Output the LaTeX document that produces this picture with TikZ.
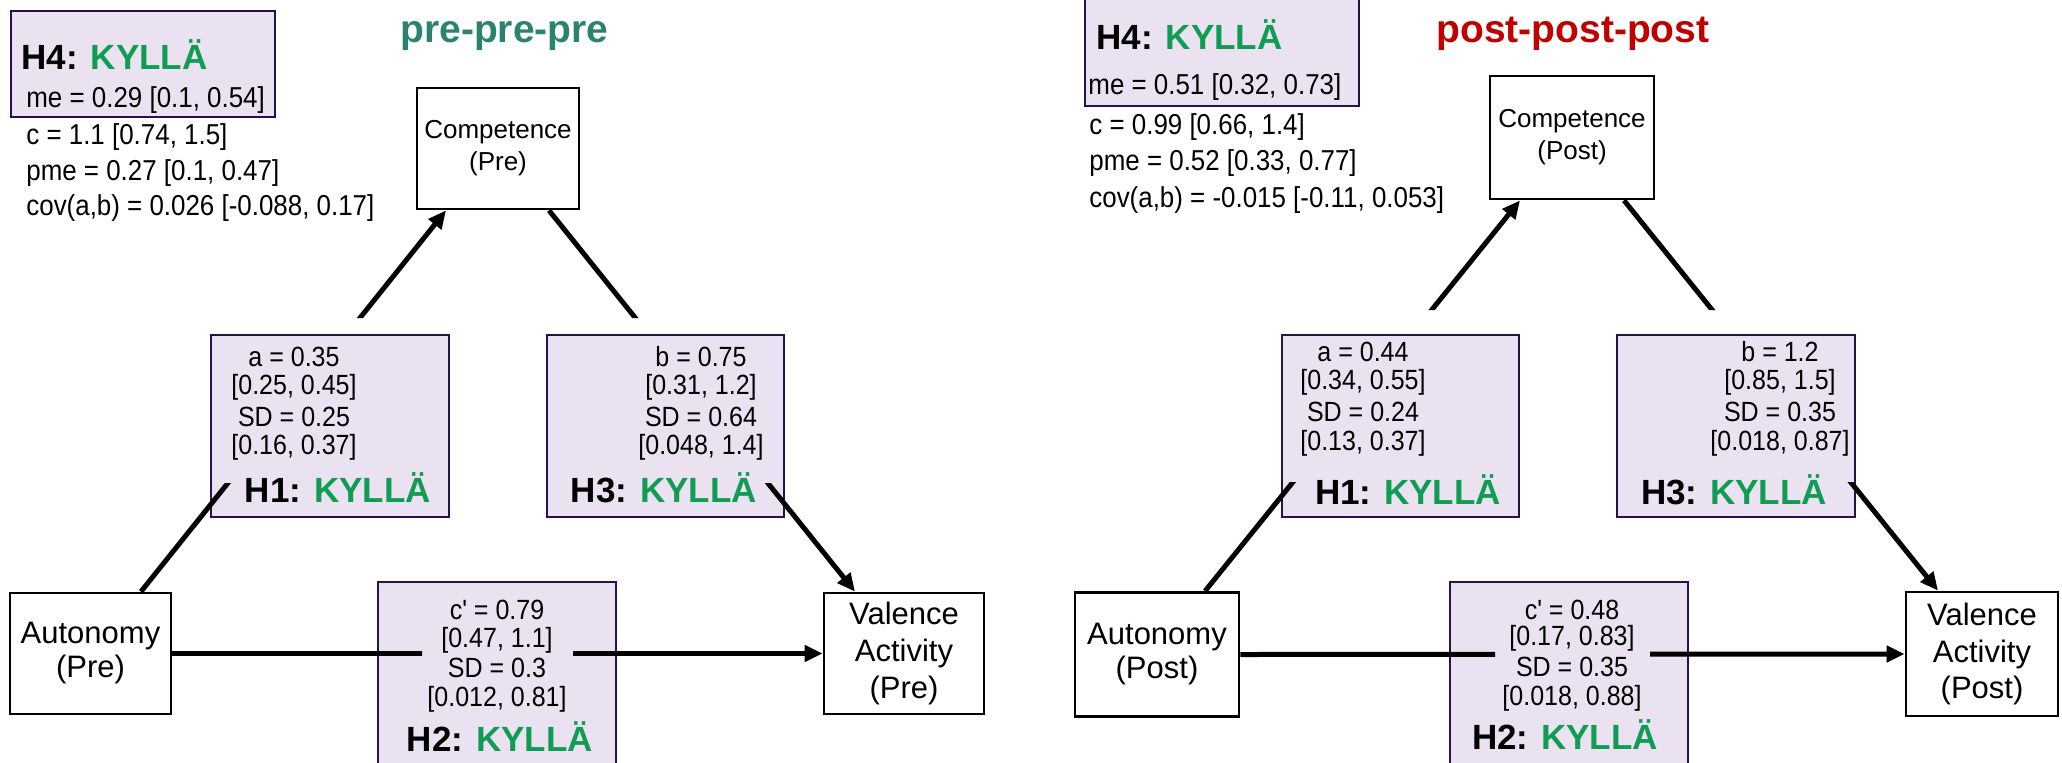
\documentclass[tikz,border=0pt]{standalone}
\usepackage{fontspec}
\setmainfont{Liberation Sans}
\newfontfamily\condfont{Liberation Sans}[FakeStretch=0.9, Ligatures=TeXOff]
\usetikzlibrary{arrows.meta}
\definecolor{lav}{RGB}{234,226,240}
\definecolor{pborder}{RGB}{38,20,72}
\definecolor{kgreen}{RGB}{16,156,84}
\definecolor{pretitle}{RGB}{41,131,110}
\definecolor{posttitle}{RGB}{192,0,0}
\newcommand{\kyl}[1]{{\fontsize{17.5}{20}\selectfont\bfseries #1: \textcolor{kgreen}{KYLLÄ}}}
\begin{document}
\begin{tikzpicture}[x=0.5pt,y=-0.5pt,
  box/.style={draw=black, line width=1.4pt, fill=white, inner sep=0pt, align=center},
  statbox/.style={draw=pborder, line width=1pt, fill=lav, inner sep=0pt},
  stat/.style={inner sep=0pt, font=\condfont\fontsize{13.9}{16}\selectfont},
  info/.style={inner sep=0pt, anchor=west, font=\condfont\fontsize{14.4}{16}\selectfont},
  lab/.style={inner sep=0pt},
  ttl/.style={anchor=base west, inner sep=0pt, font=\fontsize{19.5}{22}\selectfont\bfseries},
  conn/.style={line width=2.5pt, -{Triangle[length=9pt,width=8pt]}}]
\useasboundingbox (0,0) rectangle (2062,762);

% ---------------- main nodes
\node[box, minimum width=81pt, minimum height=60.5pt, font=\fontsize{13}{16}\selectfont] (compL) at (498,148.5) {Competence\\(Pre)};
\node[box, minimum width=80.5pt, minimum height=60.5pt, font=\fontsize{15.5}{17}\selectfont] (autL) at (90.5,653.5) {Autonomy\\(Pre)};
\node[box, minimum width=80pt, minimum height=60.5pt, font=\fontsize{15.5}{18.3}\selectfont] (valL) at (904,653.5) {Valence\\Activity\\(Pre)};

\node[box, minimum width=82pt, minimum height=61.5pt, font=\fontsize{13}{16}\selectfont] (compR) at (1572,137.5) {Competence\\(Post)};
\node[box, minimum width=82pt, minimum height=62pt, font=\fontsize{15.5}{17}\selectfont] (autR) at (1157,654.5) {Autonomy\\(Post)};
\node[box, minimum width=76pt, minimum height=62pt, font=\fontsize{15.5}{18.3}\selectfont] (valR) at (1982,654) {Valence\\Activity\\(Post)};

% ---------------- stat boxes
\node[statbox, minimum width=132pt, minimum height=53pt] (h4L) at (143,64) {};
\node[statbox, minimum width=119pt, minimum height=91pt] (h1L) at (330,426) {};
\node[statbox, minimum width=118.5pt, minimum height=91pt] (h3L) at (665.5,426) {};
\node[statbox, minimum width=119pt, minimum height=94pt] (h2L) at (497,676) {};

\node[statbox, minimum width=137pt, minimum height=54.5pt] (h4R) at (1222,51.5) {};
\node[statbox, minimum width=118.5pt, minimum height=91pt] (h1R) at (1400.5,426) {};
\node[statbox, minimum width=119pt, minimum height=91pt] (h3R) at (1736,426) {};
\node[statbox, minimum width=119pt, minimum height=94pt] (h2R) at (1569,676) {};

% ---------------- connectors (left)
\begin{scope}[even odd rule]
\clip (-20,-20) rectangle (2100,800) (-20,318) rectangle (2100,483);
\draw[conn] ([xshift=25.25pt]autL.north) -- ([xshift=-26pt]compL.south);
\draw[conn] ([xshift=25.5pt]compL.south) -- ([xshift=-24.5pt]valL.north);
\end{scope}
\begin{scope}[even odd rule]
\clip (-20,-20) rectangle (2100,800) (422,600) rectangle (573,700);
\draw[conn] (autL.east) -- (valL.west);
\end{scope}

% ---------------- connectors (right)
\begin{scope}[even odd rule]
\clip (-20,-20) rectangle (2100,800) (-20,310) rectangle (2100,482);
\draw[conn] ([xshift=24pt]autR.north) -- ([xshift=-26pt]compR.south);
\draw[conn] ([xshift=26pt]compR.south) -- ([xshift=-22pt]valR.north);
\end{scope}
\begin{scope}[even odd rule]
\clip (-20,-20) rectangle (2100,800) (1495,600) rectangle (1650,700);
\draw[conn] (autR.east) -- (valR.west);
\end{scope}

% ---------------- titles
\node[ttl, text=pretitle] (titleL) at (400,42) {pre-pre-pre};
\node[ttl, text=posttitle] (titleR) at (1436,42) {post-post-post};

% ---------------- H4 info (left)
\node[lab, anchor=west] (h4Lt) at (21,55) {\kyl{H4}};
\node[info] (meL) at (26,100) {me = 0.29 [0.1, 0.54]};
\node[info] (cL) at (26,137) {c = 1.1 [0.74, 1.5]};
\node[info] (pmeL) at (26,173) {pme = 0.27 [0.1, 0.47]};
\node[info] (covL) at (26,208) {cov(a,b) = 0.026 [-0.088, 0.17]};

% ---------------- H4 info (right)
\node[lab, anchor=west] (h4Rt) at (1096,35) {\kyl{H4}};
\node[info] (meR) at (1088,87) {me = 0.51 [0.32, 0.73]};
\node[info] (cR) at (1089,127) {c = 0.99 [0.66, 1.4]};
\node[info] (pmeR) at (1089,163) {pme = 0.52 [0.33, 0.77]};
\node[info] (covR) at (1089,200) {cov(a,b) = -0.015 [-0.11, 0.053]};

% ---------------- H1 left
\node[stat] (a1L) at (294,357) {a = 0.35};
\node[stat] (a2L) at (294,387) {[0.25, 0.45]};
\node[stat] (a3L) at (294,417) {SD = 0.25};
\node[stat] (a4L) at (294,447) {[0.16, 0.37]};
\node[lab] (h1Lt) at (338,488) {\kyl{H1}};
% ---------------- H3 left
\node[stat] (b1L) at (701,357) {b = 0.75};
\node[stat] (b2L) at (701,387) {[0.31, 1.2]};
\node[stat] (b3L) at (701,417) {SD = 0.64};
\node[stat] (b4L) at (701,447) {[0.048, 1.4]};
\node[lab] (h3Lt) at (664,488) {\kyl{H3}};
% ---------------- H2 left
\node[stat] (c1L) at (497,610) {c' = 0.79};
\node[stat] (c2L) at (497,640) {[0.47, 1.1]};
\node[stat] (c3L) at (497,668) {SD = 0.3};
\node[stat] (c4L) at (497,699) {[0.012, 0.81]};
\node[lab] (h2Lt) at (500,737) {\kyl{H2}};

% ---------------- H1 right
\node[stat] (a1R) at (1363,352) {a = 0.44};
\node[stat] (a2R) at (1363,382) {[0.34, 0.55]};
\node[stat] (a3R) at (1363,412) {SD = 0.24};
\node[stat] (a4R) at (1363,443) {[0.13, 0.37]};
\node[lab] (h1Rt) at (1408,490) {\kyl{H1}};
% ---------------- H3 right
\node[stat] (b1R) at (1780,352) {b = 1.2};
\node[stat] (b2R) at (1780,382) {[0.85, 1.5]};
\node[stat] (b3R) at (1780,412) {SD = 0.35};
\node[stat] (b4R) at (1780,443) {[0.018, 0.87]};
\node[lab] (h3Rt) at (1734,490) {\kyl{H3}};
% ---------------- H2 right
\node[stat] (c1R) at (1572,610) {c' = 0.48};
\node[stat] (c2R) at (1572,638) {[0.17, 0.83]};
\node[stat] (c3R) at (1572,667) {SD = 0.35};
\node[stat] (c4R) at (1572,698) {[0.018, 0.88]};
\node[lab] (h2Rt) at (1565,735) {\kyl{H2}};
\end{tikzpicture}
\end{document}
